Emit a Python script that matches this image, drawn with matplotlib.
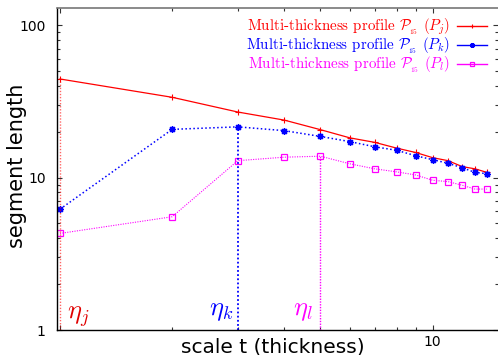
import matplotlib
matplotlib.use("Agg")
import matplotlib.pyplot as plt
from matplotlib.ticker import FixedLocator, NullFormatter, FixedFormatter

plt.rcParams["mathtext.fontset"] = "cm"

# scale values and segment lengths of the three profiles
scales = [1, 2, 3, 4, 5, 6, 7, 8, 9, 10, 11, 12, 13, 14]
seg_j = [44.3, 33.6, 26.9, 23.8, 20.6, 18.2, 17.0, 15.6, 14.6, 13.5, 12.9, 11.8, 11.4, 10.8]
seg_k = [6.2, 20.7, 21.5, 20.3, 18.6, 17.2, 15.9, 15.1, 13.9, 13.1, 12.4, 11.6, 10.8, 10.6]
seg_l = [4.3, 5.53, 12.9, 13.6, 13.8, 12.3, 11.4, 10.9, 10.4, 9.6, 9.4, 8.9, 8.4, 8.4]

# characteristic thickness of each profile
eta_j, eta_k, eta_l = 1, 3, 5

labels = [r"Multi-thickness profile $\mathcal{P}_{\!_{15}}$ $(P_j)$",
          r"Multi-thickness profile $\mathcal{P}_{\!_{15}}$ $(P_k)$",
          r"Multi-thickness profile $\mathcal{P}_{\!_{15}}$ $(P_l)$"]

W, H = 498, 355
fig = plt.figure(figsize=(W / 100, H / 100), dpi=100)
x0, x1, y0, y1 = 56.7, 497.5, 7.7, 330.0
ax = fig.add_axes([x0 / W, 1 - y1 / H, (x1 - x0) / W, (y1 - y0) / H])

ax.set_xscale("log")
ax.set_yscale("log")
ax.set_xlim(0.98, 14.93)
ax.set_ylim(1, 130)

red, blue, mag = "#ff0000", "#0000ff", "#ff00ff"

ax.plot(scales, seg_j, color=red, lw=0.9, marker="+", ms=5, mew=0.8, label=labels[0])
ax.plot(scales, seg_k, color=blue, lw=1.1, ls=(0, (1, 1.6)), marker=(8, 2, 0), ms=4.8,
        mew=1.0, label=labels[1])
ax.plot(scales, seg_l, color=mag, lw=0.8, ls=(0, (1, 1.2)), marker="s", ms=4.2,
        mfc="none", mew=0.9, label=labels[2])

ax.vlines(eta_j, 1, seg_j[scales.index(eta_j)], color=red, lw=1.0, ls=(0, (1, 1.2)), alpha=0.6)
ax.vlines(eta_k, 1, seg_k[scales.index(eta_k)], color=blue, lw=1.3, ls=(0, (1, 1.3)))
ax.vlines(eta_l, 1, seg_l[scales.index(eta_l)], color=mag, lw=1.0, ls=(0, (1, 1.0)))

ax.text(1.121, 1.236, r"$\eta_j$", color="#e00000", fontsize=19, ha="center", va="center")
ax.text(2.71, 1.35, r"$\eta_k$", color=blue, fontsize=19, ha="center", va="center")
ax.text(4.50, 1.35, r"$\eta_l$", color=mag, fontsize=19, ha="center", va="center")

# ticks
ax.xaxis.set_major_locator(FixedLocator([1, 10]))
ax.xaxis.set_major_formatter(FixedFormatter(["", "10"]))
ax.xaxis.set_minor_locator(FixedLocator([2, 3, 4, 5, 6, 7, 8, 9]))
ax.xaxis.set_minor_formatter(NullFormatter())
ax.yaxis.set_major_locator(FixedLocator([1, 10, 100]))
ax.yaxis.set_major_formatter(FixedFormatter(["1", "10", "100"]))
ax.yaxis.set_minor_locator(FixedLocator([m * d for d in (1, 10, 100) for m in range(2, 10)]))
ax.yaxis.set_minor_formatter(NullFormatter())
ax.tick_params(which="both", direction="in", top=True, right=True, width=0.8, color="#333333")
ax.tick_params(which="major", length=3.5)
ax.tick_params(which="minor", length=2.2)
ax.tick_params(axis="y", which="major", pad=8, labelsize=10)
ax.tick_params(axis="x", which="major", pad=3.5, labelsize=10)

for s in ("left", "bottom"):
    ax.spines[s].set_linewidth(1.0)
    ax.spines[s].set_color("black")
ax.spines["top"].set_color("#777777")
ax.spines["top"].set_linewidth(1.2)
ax.spines["right"].set_visible(False)

ax.set_ylabel("segment length", fontsize=15)
ax.yaxis.set_label_coords(-0.0674, 0.51)
ax.set_xlabel("scale t (thickness)", fontsize=14.5)
ax.xaxis.set_label_coords(0.4907, -0.022)

leg = ax.legend(loc="upper right", bbox_to_anchor=((487 - x0) / (x1 - x0), 1 - (17 - y0) / (y1 - y0)),
                frameon=False, markerfirst=False, numpoints=1, handlelength=2.0,
                handletextpad=0.45, labelspacing=-0.09, borderpad=0, borderaxespad=0,
                prop={"family": "cmr10", "size": 10.8})
for txt, c in zip(leg.get_texts(), (red, blue, mag)):
    txt.set_color(c)
for ln in leg.get_lines():
    ln.set_linestyle("-")
    ln.set_linewidth(1.0)
    ln.set_markersize(3.5)

fig.savefig("out.png", dpi=100)
